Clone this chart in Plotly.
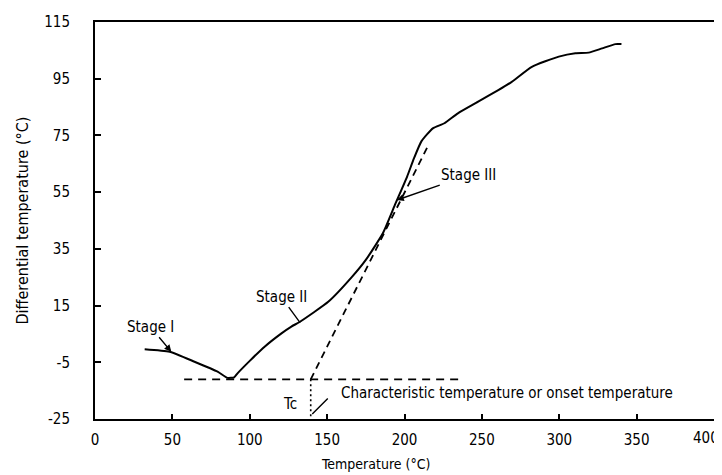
import plotly.graph_objects as go

# ---- data ----
temp_c = [32.1, 48.2, 64.3, 79.2, 85.6, 89.9, 92.1, 100.0, 109.6, 120.5, 126.9,
          132.5, 150.9, 166.2, 175.0, 186.0, 193.8, 201.7, 206.1, 211.0, 218.3,
          225.8, 234.5, 247.6, 260.6, 269.3, 282.3, 299.7, 310.4, 319.0, 327.7,
          336.3, 340.2]
diff_temp = [-0.4, -1.3, -4.8, -8.3, -10.5, -10.3, -8.9, -4.5, 0.5, 5.2, 7.6,
             9.3, 16.4, 25.2, 31.1, 40.5, 50.5, 60.5, 66.9, 73.0, 77.5,
             79.3, 82.8, 86.9, 91.0, 93.9, 99.2, 102.8, 104.0, 104.2, 105.7,
             107.2, 107.2]

baseline_x = [57.6, 236.2]
baseline_y = [-11, -11]
tangent_x = [139.4, 216.0]
tangent_y = [-11, 72.2]
onset_x = [139.4, 139.4]
onset_y = [-11, -25]

x_ticks = [0, 50, 100, 150, 200, 250, 300, 350, 400]
x_ticktext = ["0", "50", "100", "150", "200", "250", "300", "350", ""]
last_x_label = "400"
y_ticks = [-25, -5, 15, 35, 55, 75, 95, 115]

FONT = "DejaVu Sans Condensed, Liberation Sans Narrow, DejaVu Sans, sans-serif"

fig = go.Figure()
fig.add_trace(go.Scatter(x=temp_c, y=diff_temp, mode="lines",
                         line=dict(color="black", width=2, shape="spline", smoothing=0.5),
                         hoverinfo="skip"))
fig.add_trace(go.Scatter(x=baseline_x, y=baseline_y, mode="lines",
                         line=dict(color="black", width=1.8, dash="8px,6px"), hoverinfo="skip"))
fig.add_trace(go.Scatter(x=tangent_x, y=tangent_y, mode="lines",
                         line=dict(color="black", width=1.8, dash="7px,5px"), hoverinfo="skip"))
fig.add_trace(go.Scatter(x=onset_x, y=onset_y, mode="lines",
                         line=dict(color="black", width=1.6, dash="2px,3px"), hoverinfo="skip"))

ann_font = dict(family=FONT, size=15, color="black")
annotations = [
    dict(x=49.3, y=-1.3, xref="x", yref="y", text="Stage I", showarrow=True,
         ax=-21, ay=-25, arrowhead=2, arrowsize=1, arrowwidth=1.4, arrowcolor="black",
         font=ann_font),
    dict(x=132.5, y=9.0, xref="x", yref="y", text="Stage II", showarrow=True,
         ax=-19, ay=-26, arrowhead=0, arrowwidth=1.4, arrowcolor="black", font=ann_font),
    dict(x=195.0, y=52.2, xref="x", yref="y", text="Stage III", showarrow=True,
         ax=72, ay=-25, arrowhead=2, arrowsize=1, arrowwidth=1.4, arrowcolor="black",
         font=ann_font),
    dict(x=140.4, y=-23.2, xref="x", yref="y", text="", showarrow=True,
         ax=17, ay=-17, arrowhead=0, arrowwidth=1.4, arrowcolor="black"),
    dict(x=157.6, y=-15.9, xref="x", yref="y", text="Characteristic temperature or onset temperature",
         showarrow=False, xanchor="left", yanchor="middle", font=ann_font),
    dict(x=126.3, y=-19.7, xref="x", yref="y", text="Tc", showarrow=False,
         xanchor="center", yanchor="middle", font=ann_font),
    dict(x=(22 - 95) / 619, y=0.5, xref="paper", yref="paper",
         text="Differential temperature (°C)", textangle=-90, showarrow=False,
         xanchor="center", yanchor="middle", font=dict(family=FONT, size=16, color="black")),
    dict(x=(375 - 95) / 619, y=(419 - 464) / 397, xref="paper", yref="paper",
         text="Temperature (°C)", showarrow=False,
         xanchor="center", yanchor="middle", font=dict(family=FONT, size=14, color="black")),
    dict(x=(721 - 95) / 619, y=(419 - 438) / 397, xref="paper", yref="paper",
         text=last_x_label, showarrow=False, xanchor="right", yanchor="middle",
         font=dict(family=FONT, size=15, color="black")),
]

# page body has an 8px margin, so the figure is drawn from (8, 8)
fig.update_layout(
    width=714, height=467,
    margin=dict(l=87, r=8, t=14, b=56),
    paper_bgcolor="white", plot_bgcolor="white",
    showlegend=False,
    annotations=annotations,
    font=dict(family=FONT, color="black", size=15),
)
fig.update_xaxes(range=[0, 400], tickvals=x_ticks, ticktext=x_ticktext,
                 ticks="inside", ticklen=5, tickwidth=1.6, tickcolor="black",
                 showline=True, linecolor="black", linewidth=2, mirror=True,
                 showgrid=False, zeroline=False, ticklabelstandoff=6,
                 ticklabeloverflow="allow", automargin=False,
                 tickfont=dict(family=FONT, size=15, color="black"))
fig.update_yaxes(range=[-25, 115], tickvals=y_ticks, ticktext=[str(v) for v in y_ticks],
                 ticks="inside", ticklen=6, tickwidth=1.6, tickcolor="black",
                 showline=True, linecolor="black", linewidth=2, mirror=True,
                 showgrid=False, zeroline=False, ticklabelstandoff=20,
                 ticklabeloverflow="allow", automargin=False,
                 tickfont=dict(family=FONT, size=15, color="black"))

fig.write_html("out.html")
